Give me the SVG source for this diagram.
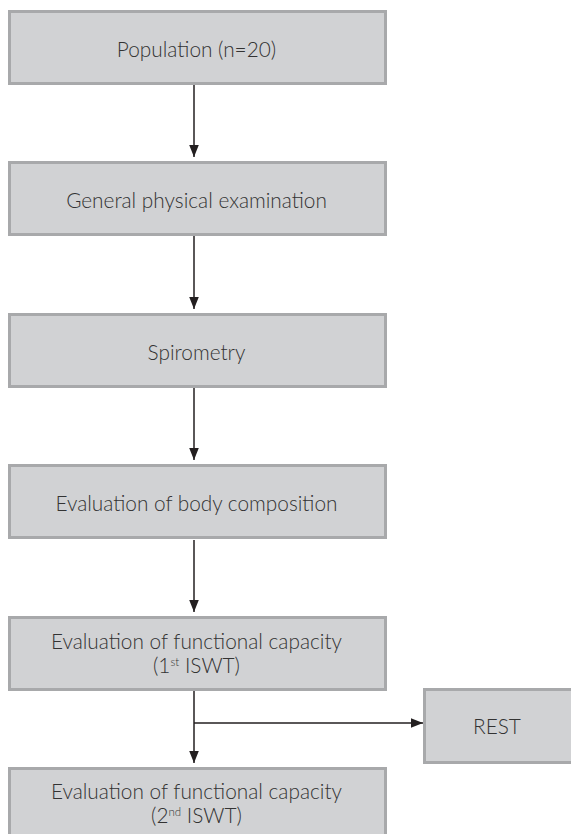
<svg xmlns="http://www.w3.org/2000/svg" width="571" height="834" viewBox="0 0 571 834">
<defs>
<style>
.box{fill:#d1d2d4;stroke:#a8a9ab;stroke-width:3}
.t{font-family:"Lato","Open Sans","Liberation Sans",sans-serif;font-weight:300;font-size:20.8px;fill:#333;text-anchor:middle}
.sup{font-size:11.5px}
.c{stroke:#231f20;stroke-width:1.5;fill:none}
</style>
<marker id="ah" markerUnits="userSpaceOnUse" markerWidth="12" markerHeight="15" refX="15" refY="6" orient="auto" viewBox="0 0 15 12">
<path d="M0,0 L15,6 L0,12 z" fill="#231f20"/>
</marker>
</defs>
<rect width="571" height="834" fill="#fff"/>
<g id="connectors">
<line class="c" x1="194" y1="85" x2="194" y2="157" marker-end="url(#ah)"/>
<line class="c" x1="194" y1="236" x2="194" y2="309" marker-end="url(#ah)"/>
<line class="c" x1="194" y1="388" x2="194" y2="460" marker-end="url(#ah)"/>
<line class="c" x1="194" y1="540" x2="194" y2="612" marker-end="url(#ah)"/>
<line class="c" x1="194" y1="691" x2="194" y2="763" marker-end="url(#ah)"/>
<line class="c" x1="194" y1="723" x2="423" y2="723" marker-end="url(#ah)"/>
</g>
<g id="n1"><rect class="box" x="9.5" y="11.5" width="376" height="72"/><text class="t" x="196.5" y="56.5">Population (n=20)</text></g>
<g id="n2"><rect class="box" x="9.5" y="162.5" width="376" height="72"/><text class="t" x="196.5" y="207.5">General physical examination</text></g>
<g id="n3"><rect class="box" x="9.5" y="314.5" width="376" height="72"/><text class="t" x="196.5" y="359.5">Spirometry</text></g>
<g id="n4"><rect class="box" x="9.5" y="465.5" width="376" height="72"/><text class="t" x="196.5" y="511">Evaluation of body composition</text></g>
<g id="n5"><rect class="box" x="9.5" y="617.5" width="376" height="72"/><text class="t" x="196.5" y="648.5">Evaluation of functional capacity</text><text class="t" x="196.5" y="673">(1<tspan class="sup" dy="-7">st</tspan><tspan dy="7"> ISWT)</tspan></text></g>
<g id="n6"><rect class="box" x="9.5" y="768.5" width="376" height="72"/><text class="t" x="196.5" y="798.5">Evaluation of functional capacity</text><text class="t" x="196.5" y="823">(2<tspan class="sup" dy="-7">nd</tspan><tspan dy="7"> ISWT)</tspan></text></g>
<g id="rest"><rect class="box" x="424.5" y="689.5" width="150" height="73"/><text class="t" x="497" y="734">REST</text></g>
</svg>
